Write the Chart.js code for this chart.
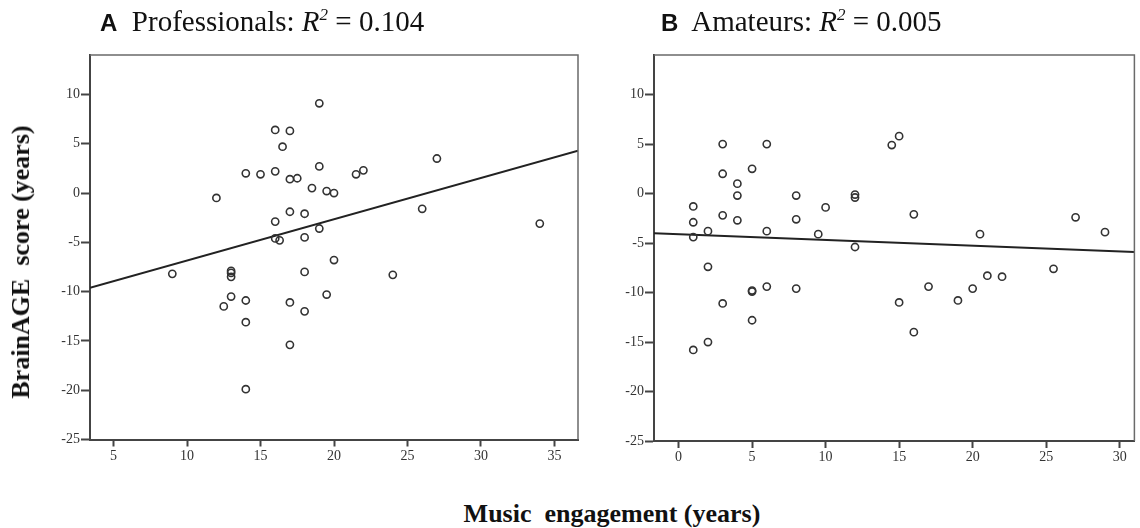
<!DOCTYPE html>
<html>
<head>
<meta charset="utf-8">
<script src="https://cdn.jsdelivr.net/npm/chart.js@4.4.1/dist/chart.umd.min.js"></script>
<style>
  body { margin: 0; background: #fff; }
  #page { position: relative; width: 1140px; height: 528px; overflow: hidden; font-family: "Liberation Serif", serif; color: #111; }
  .panel { position: absolute; top: 0; }
  .ptitle { position: absolute; top: 4px; font-size: 29px; line-height: 34px; white-space: pre; }
  .ptitle b { font-family: "Liberation Sans", Arial, sans-serif; font-size: 24px; }
  .ptitle sup { font-size: 17px; line-height: 0; font-style: italic; }
  .axtitle { position: absolute; font-weight: bold; font-size: 26px; white-space: pre; }
</style>
</head>
<body>
<div id="page">
  <div class="panel" style="left:0;width:590px;height:480px"><canvas id="proChart" width="590" height="480"></canvas></div>
  <div class="panel" style="left:600px;width:540px;height:480px"><canvas id="amaChart" width="540" height="480"></canvas></div>
  <div class="ptitle" style="left:100px"><b>A</b>  Professionals: <i>R</i><sup>2</sup> = 0.104</div>
  <div class="ptitle" style="left:661px"><b>B</b>  Amateurs: <i>R</i><sup>2</sup> = 0.005</div>
  <div class="axtitle" style="left:21px;top:262px;transform:translate(-50%,-50%) rotate(-90deg)">BrainAGE  score (years)</div>
  <div class="axtitle" style="left:612px;top:514px;transform:translate(-50%,-50%)">Music  engagement (years)</div>
</div>
<script>
// professionals (panel A)
const proX = [9, 12, 12.5, 13, 13, 13, 13, 14, 14, 14, 14, 15, 16, 16, 16, 16, 16.3, 16.5, 17, 17, 17, 17, 17, 17.5, 18, 18, 18, 18, 18.5, 19, 19, 19, 19.5, 19.5, 20, 20, 21.5, 22, 24, 26, 27, 34]
const proY = [-8.2, -0.5, -11.5, -7.9, -8.1, -8.5, -10.5, 2.0, -10.9, -13.1, -19.9, 1.9, 6.4, 2.2, -2.9, -4.6, -4.8, 4.7, 6.3, 1.4, -1.9, -11.1, -15.4, 1.5, -2.1, -4.5, -8.0, -12.0, 0.5, 9.1, 2.7, -3.6, 0.2, -10.3, 0.0, -6.8, 1.9, 2.3, -8.3, -1.6, 3.5, -3.1]
const proFitX = [3.4, 36.6]
const proFitY = [-9.6, 4.3]

// amateurs (panel B)
const amaX = [1, 1, 1, 1, 2, 2, 2, 3, 3, 3, 3, 4, 4, 4, 5, 5, 5, 5, 6, 6, 6, 8, 8, 8, 9.5, 10, 12, 12, 12, 14.5, 15, 15, 16, 16, 17, 19, 20, 20.5, 21, 22, 25.5, 27, 29]
const amaY = [-1.3, -2.9, -4.4, -15.8, -3.8, -7.4, -15.0, 5.0, 2.0, -2.2, -11.1, 1.0, -0.2, -2.7, 2.5, -9.8, -9.9, -12.8, 5.0, -3.8, -9.4, -0.2, -2.6, -9.6, -4.1, -1.4, -0.1, -0.4, -5.4, 4.9, 5.8, -11.0, -2.1, -14.0, -9.4, -10.8, -9.6, -4.1, -8.3, -8.4, -7.6, -2.4, -3.9]
const amaFitX = [-1.67, 31]
const amaFitY = [-4.0, -5.9]

const proTicksX = [5, 10, 15, 20, 25, 30, 35]
const amaTicksX = [0, 5, 10, 15, 20, 25, 30]
const ticksY = [-25, -20, -15, -10, -5, 0, 5, 10]

const toPoints = (xs, ys) => xs.map((x, i) => ({ x: x, y: ys[i] }))

// top and right edges of the plot box
const framePlugin = {
    id: 'frame',
    afterDraw(chart) {
        const a = chart.chartArea
        const ctx = chart.ctx
        ctx.save()
        ctx.strokeStyle = '#6a6a6a'
        ctx.lineWidth = 1.5
        ctx.beginPath()
        ctx.moveTo(a.left, a.top)
        ctx.lineTo(a.right, a.top)
        ctx.lineTo(a.right, a.bottom)
        ctx.stroke()
        ctx.restore()
    }
}

const tickFont = { family: 'Liberation Serif', size: 14 }

function panelConfig(points, fitX, fitY, xMin, xMax, xTicks, yWidth, xHeight, padRight) {
    return {
        type: 'scatter',
        data: {
            datasets: [
                {
                    data: points,
                    borderColor: '#333',
                    backgroundColor: 'rgba(0,0,0,0)',
                    pointRadius: 3.6,
                    borderWidth: 1.6,
                },
                {
                    type: 'line',
                    data: toPoints(fitX, fitY),
                    borderColor: '#222',
                    borderWidth: 2,
                    pointRadius: 0,
                    fill: false,
                },
            ],
        },
        options: {
            responsive: false,
            animation: false,
            layout: { padding: { top: 55, right: padRight, left: 0, bottom: 0 } },
            plugins: { legend: { display: false }, tooltip: { enabled: false } },
            scales: {
                x: {
                    type: 'linear',
                    min: xMin,
                    max: xMax,
                    afterBuildTicks: s => { s.ticks = xTicks.map(v => ({ value: v })) },
                    afterFit: s => { s.height = xHeight },
                    grid: { drawOnChartArea: false, drawTicks: true, tickLength: 7, tickWidth: 2, tickColor: '#444' },
                    border: { color: '#444', width: 2 },
                    ticks: { font: tickFont, color: '#333', padding: 1, maxRotation: 0, autoSkip: false },
                },
                y: {
                    type: 'linear',
                    min: -25,
                    max: 14,
                    afterBuildTicks: s => { s.ticks = ticksY.map(v => ({ value: v })) },
                    afterFit: s => { s.width = yWidth },
                    grid: { drawOnChartArea: false, drawTicks: true, tickLength: 9, tickWidth: 2, tickColor: '#444' },
                    border: { color: '#444', width: 2 },
                    ticks: { font: tickFont, color: '#333', padding: 1, autoSkip: false },
                },
            },
        },
        plugins: [framePlugin],
    }
}

const proChart = new Chart(document.getElementById('proChart'),
    panelConfig(toPoints(proX, proY), proFitX, proFitY, 3.4, 36.6, proTicksX, 90, 40.5, 12))
const amaChart = new Chart(document.getElementById('amaChart'),
    panelConfig(toPoints(amaX, amaY), amaFitX, amaFitY, -1.67, 31, amaTicksX, 54, 39, 2))
</script>
</body>
</html>
